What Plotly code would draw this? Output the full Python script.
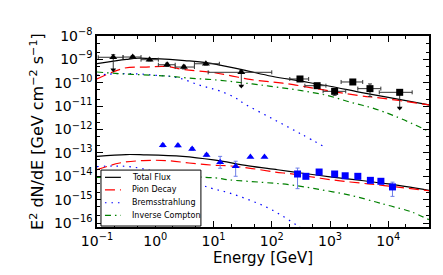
import plotly.graph_objects as go

# ---------------- data (GeV, GeV cm^-2 s^-1) ----------------
# upper source: black triangles
hi_tri_E = [0.19, 0.41, 0.80, 1.6, 3.1, 7.4, 30.0]
hi_tri_F = [1.23e-9, 1.26e-9, 9.7e-10, 5.9e-10, 4.7e-10, 6.5e-10, 2.8e-10]
hi_tri_Elo = [0.105, 0.28, 0.57, 1.13, 2.2, 4.7, 8.1]
hi_tri_Ehi = [0.28, 0.57, 1.13, 2.2, 4.7, 12.6, 100.0]
hi_tri_Flo = [3.6e-10, 1.10e-9, 8.6e-10, 5.0e-10, 3.9e-10, 5.7e-10, 7.2e-11]
hi_tri_Fhi = [1.58e-9, 1.42e-9, 1.09e-9, 6.9e-10, 5.6e-10, 7.3e-10, 3.3e-10]
hi_tri_UL = [True, False, False, False, False, False, True]

# upper source: black squares
hi_sq_E = [305, 600, 1200, 2460, 4850, 15700]
hi_sq_F = [1.45e-10, 7.5e-11, 4.3e-11, 1.08e-10, 5.6e-11, 3.9e-11]
hi_sq_Elo = [204, 370, 760, 1550, 3000, 7000]
hi_sq_Ehi = [430, 850, 1860, 3640, 7450, 25700]
hi_sq_Flo = [1.25e-10, 6.2e-11, 2.9e-11, 9.2e-11, 2.6e-11, 8.3e-12]
hi_sq_Fhi = [1.65e-10, 8.8e-11, 5.5e-11, 1.25e-10, 8.9e-11, 4.4e-11]
hi_sq_UL = [False, False, False, False, False, True]

# lower source: blue triangles
lo_tri_E = [1.35, 2.45, 4.3, 7.6, 13.0, 24.0, 43.0, 75.0]
lo_tri_F = [2.1e-13, 2.05e-13, 1.48e-13, 8.2e-14, 4.0e-14, 2.7e-14, 6.6e-14, 6.6e-14]
lo_tri_Flo = [1.8e-13, 1.8e-13, 1.28e-13, 7.0e-14, 2.2e-14, 1.0e-14, 6.3e-14, 6.3e-14]
lo_tri_Fhi = [2.45e-13, 2.35e-13, 1.7e-13, 9.5e-14, 7.1e-14, 4.4e-14, 6.9e-14, 6.9e-14]

# lower source: blue squares
lo_sq_E = [277, 385, 650, 1200, 1820, 3000, 4930, 7470, 11800]
lo_sq_F = [1.25e-14, 9.95e-15, 1.52e-14, 1.25e-14, 1.05e-14, 9.95e-15, 6.7e-15, 6.1e-15, 3.5e-15]
lo_sq_Flo = [2.95e-15, 8.9e-15, 1.38e-14, 1.13e-14, 9.4e-15, 8.9e-15, 5.9e-15, 5.4e-15, 1.38e-15]
lo_sq_Fhi = [2.24e-14, 1.1e-14, 1.67e-14, 1.38e-14, 1.16e-14, 1.1e-14, 7.5e-15, 6.8e-15, 5.6e-15]

# model curves, upper source
up_tot_E = [0.1, 0.32, 0.5, 1.0, 3.2, 8.0, 32, 100, 316, 1000, 3160, 10000, 50000]
up_tot_F = [6.6e-10, 1.0e-9, 1.12e-9, 1.07e-9, 8.9e-10, 7.1e-10, 3.55e-10, 1.9e-10,
            1.17e-10, 7.1e-11, 4.0e-11, 2.35e-11, 1.12e-11]
up_pi_E = [0.1, 0.3, 0.7, 1.5, 3.2, 9, 18, 45, 107, 234, 575, 3000, 7000, 18600, 50000]
up_pi_F = [1.45e-10, 4.27e-10, 4.68e-10, 5.0e-10, 3.63e-10, 2.82e-10, 2.09e-10, 1.35e-10,
           1.07e-10, 8.3e-11, 5.6e-11, 2.88e-11, 2.24e-11, 1.62e-11, 1.12e-11]
up_br_E = [0.1, 0.22, 0.5, 1.0, 2.0, 3.2, 5.4, 8.5, 13.5, 24, 34, 100, 316, 870]
up_br_F = [2.09e-10, 2.45e-10, 2.4e-10, 2.09e-10, 1.82e-10, 1.35e-10, 8.3e-11, 6.0e-11,
           4.27e-11, 2.24e-11, 1.26e-11, 3.0e-12, 6.5e-13, 1.62e-13]
up_ic_E = [0.1, 0.32, 0.9, 1.74, 3.8, 10, 46, 123, 324, 870, 2290, 5370, 13500, 50000]
up_ic_F = [2.88e-10, 2.34e-10, 2.09e-10, 1.9e-10, 1.58e-10, 1.35e-10, 8.9e-11, 6.5e-11,
           4.6e-11, 2.9e-11, 1.45e-11, 8.3e-12, 3.6e-12, 8.3e-13]

# model curves, lower source
lw_tot_E = [0.1, 0.316, 0.63, 2.95, 10, 40, 126, 316, 1000, 3160, 10000, 50000]
lw_tot_F = [7.1e-14, 8.5e-14, 8.3e-14, 7.1e-14, 5.0e-14, 2.8e-14, 1.9e-14, 1.38e-14,
            9.5e-15, 6.8e-15, 4.7e-15, 2.5e-15]
lw_pi_E = [0.1, 0.245, 0.62, 1.55, 3.8, 9.5, 20, 46, 115, 219, 550, 1380, 3390, 8500, 50000]
lw_pi_F = [1.9e-14, 3.7e-14, 4.7e-14, 4.7e-14, 3.7e-14, 3.0e-14, 2.75e-14, 2.14e-14,
           1.51e-14, 1.26e-14, 8.9e-15, 6.5e-15, 5.1e-15, 4.0e-15, 2.4e-15]
lw_br_E = [0.1, 0.2, 0.4, 1.0, 3.16, 8.9, 19, 45, 100, 282, 400]
lw_br_F = [2.6e-14, 2.75e-14, 2.5e-14, 1.58e-14, 7.1e-15, 3.16e-15, 1.9e-15, 8.9e-16,
           3.7e-16, 7.4e-17, 4.0e-17]
lw_ic_E = [0.1, 1.0, 3.16, 11, 18, 68, 195, 550, 2290, 6170, 9800, 25000, 50000]
lw_ic_F = [8.9e-15, 1.0e-14, 9.5e-15, 8.5e-15, 7.1e-15, 5.5e-15, 4.4e-15, 2.95e-15,
           1.51e-15, 7.9e-16, 5.75e-16, 3.0e-16, 1.38e-16]

legend_names = ["Total Flux", "Pion Decay", "Bremsstrahlung", "Inverse Compton"]

x_tickvals = [0.1, 1, 10, 100, 1000, 10000]
x_ticktext = ["10<sup>−1</sup>", "10<sup>0</sup>", "10<sup>1</sup>", "10<sup>2</sup>",
              "10<sup>3</sup>", "10<sup>4</sup>"]
y_tickvals = [1e-16, 1e-15, 1e-14, 1e-13, 1e-12, 1e-11, 1e-10, 1e-9, 1e-8]
y_ticktext = ["10<sup>−16</sup>", "10<sup>−15</sup>", "10<sup>−14</sup>", "10<sup>−13</sup>",
              "10<sup>−12</sup>", "10<sup>−11</sup>", "10<sup>−10</sup>", "10<sup>−9</sup>",
              "10<sup>−8</sup>"]

FONT = "DejaVu Sans"
fig = go.Figure()

styles = [("black", "solid"), ("#ff0000", "10px,5px"), ("#0000ff", "1.5px,5px"),
          ("#008000", "6px,4px,1.5px,4px")]
curves = [(up_tot_E, up_tot_F, lw_tot_E, lw_tot_F),
          (up_pi_E, up_pi_F, lw_pi_E, lw_pi_F),
          (up_br_E, up_br_F, lw_br_E, lw_br_F),
          (up_ic_E, up_ic_F, lw_ic_E, lw_ic_F)]
for name, (col, dash), (e1, f1, e2, f2) in zip(legend_names, styles, curves):
    for e, f in ((e1, f1), (e2, f2)):
        fig.add_trace(go.Scatter(x=e, y=f, mode="lines", name=name, showlegend=False,
                                 line=dict(color=col, dash=dash, width=1.2,
                                           shape="spline", smoothing=1.0)))


def points(E, F, Flo, Fhi, color, ecolor, symbol, size, Elo=None, Ehi=None):
    ex = None
    if Elo is not None:
        ex = dict(type="data", symmetric=False,
                  array=[h - e for h, e in zip(Ehi, E)],
                  arrayminus=[e - l for e, l in zip(E, Elo)],
                  color=ecolor, thickness=1, width=2)
    ey = dict(type="data", symmetric=False,
              array=[h - f for h, f in zip(Fhi, F)],
              arrayminus=[f - l for f, l in zip(F, Flo)],
              color=ecolor, thickness=1, width=2)
    fig.add_trace(go.Scatter(x=E, y=F, mode="markers", showlegend=False,
                             marker=dict(symbol=symbol, color=color, size=size),
                             error_x=ex, error_y=ey))


points(hi_tri_E, hi_tri_F, hi_tri_Flo, hi_tri_Fhi, "black", "#333333", "triangle-up", 7,
       hi_tri_Elo, hi_tri_Ehi)
points(hi_sq_E, hi_sq_F, hi_sq_Flo, hi_sq_Fhi, "black", "#333333", "square", 7,
       hi_sq_Elo, hi_sq_Ehi)
points(lo_tri_E, lo_tri_F, lo_tri_Flo, lo_tri_Fhi, "#0000ff", "#6f7fe8", "triangle-up", 7)
points(lo_sq_E, lo_sq_F, lo_sq_Flo, lo_sq_Fhi, "#0000ff", "#6f7fe8", "square", 7)

# upper-limit arrow heads
ul_E = [e for e, u in zip(hi_tri_E, hi_tri_UL) if u] + [e for e, u in zip(hi_sq_E, hi_sq_UL) if u]
ul_F = [f for f, u in zip(hi_tri_Flo, hi_tri_UL) if u] + [f for f, u in zip(hi_sq_Flo, hi_sq_UL) if u]
fig.add_trace(go.Scatter(x=ul_E, y=ul_F, mode="markers", showlegend=False,
                         marker=dict(symbol="triangle-down", color="black", size=5)))

# ----- hand-drawn legend box (paper coordinates of the plot area) -----
shapes = [dict(type="rect", xref="paper", yref="paper", x0=0.012, x1=0.313, y0=0.005, y1=0.298,
               line=dict(color="black", width=1), fillcolor="white", layer="above")]
annotations = []
row_y = [0.260, 0.194, 0.127, 0.061]
for name, (col, dash), yy in zip(legend_names, styles, row_y):
    shapes.append(dict(type="line", xref="paper", yref="paper", x0=0.024, x1=0.072, y0=yy, y1=yy,
                       line=dict(color=col, dash=dash, width=1.2), layer="above"))
    annotations.append(dict(xref="paper", yref="paper", x=0.100, y=yy, xanchor="left",
                            yanchor="middle", text=name, showarrow=False,
                            font=dict(family=FONT, size=8, color="black")))

axis_common = dict(type="log", showgrid=False, zeroline=False, showline=True,
                   linecolor="black", linewidth=1.5, mirror="allticks",
                   ticks="inside", ticklen=6, tickwidth=1, tickcolor="black",
                   minor=dict(ticks="inside", ticklen=3, tickcolor="black", showgrid=False),
                   tickfont=dict(family=FONT, size=14, color="black"))

fig.update_xaxes(range=[-1, 4.699], tickvals=x_tickvals, ticktext=x_ticktext,
                 title=dict(text="Energy [GeV]", font=dict(family=FONT, size=15, color="black"),
                            standoff=4),
                 **axis_common)
fig.update_yaxes(range=[-16.17, -8], tickvals=y_tickvals, ticktext=y_ticktext,
                 title=dict(text="E<sup>2</sup> dN/dE [GeV cm<sup>−2</sup> s<sup>−1</sup>]",
                            font=dict(family=FONT, size=16, color="black"), standoff=6),
                 **axis_common)

fig.update_layout(
    width=443, height=275,
    margin=dict(l=89, r=22, t=28, b=56),
    paper_bgcolor="white", plot_bgcolor="white",
    font=dict(family=FONT, color="black"),
    showlegend=False,
    shapes=shapes, annotations=annotations,
)

fig.write_html("out.html")
